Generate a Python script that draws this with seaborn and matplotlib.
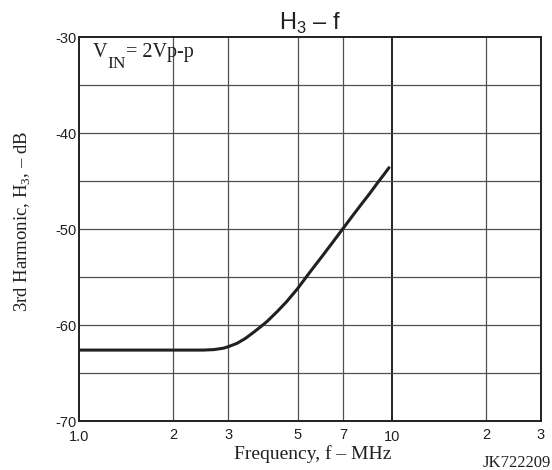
import matplotlib
matplotlib.use("Agg")
import matplotlib.pyplot as plt
import seaborn as sns
import pandas as pd
from matplotlib.ticker import FixedLocator, NullLocator
from matplotlib.transforms import ScaledTranslation

# --- data ---
freq_mhz = [1.0, 2.0, 2.5, 2.7, 2.9, 3.0, 3.2, 3.4, 3.6, 3.8, 4.0, 4.3, 4.6,
            5.0, 5.5, 6.0, 6.5, 7.0, 7.5, 8.0, 8.5, 9.0, 9.5, 9.8]
h3_db = [-62.6, -62.6, -62.6, -62.55, -62.4, -62.25, -61.9, -61.4, -60.8, -60.2, -59.6, -58.6, -57.6,
         -56.2, -54.4, -52.8, -51.3, -49.9, -48.6, -47.4, -46.3, -45.2, -44.2, -43.6]

x_ticks = [1, 2, 3, 5, 7, 10, 20, 30]
x_tick_labels = ["1.0", "2", "3", "5", "7", "10", "2", "3"]
y_ticks = [-70, -60, -50, -40, -30]
y_grid = [-65, -55, -45, -35]

df = pd.DataFrame({"freq": freq_mhz, "h3": h3_db})

sns.set_style("white")
plt.rcParams["mathtext.fontset"] = "custom"
plt.rcParams["mathtext.rm"] = "Liberation Serif"
plt.rcParams["mathtext.sf"] = "Liberation Sans"

ink = "#231f20"
serif = ["Liberation Serif", "DejaVu Serif"]
sans = ["Liberation Sans", "DejaVu Sans"]

fig = plt.figure(figsize=(5.52, 4.70), dpi=100)
ax = fig.add_axes([0.143, 0.104, 0.837, 0.817])

sns.lineplot(data=df, x="freq", y="h3", ax=ax, color=ink, linewidth=2.2)

ax.set_xscale("log")
ax.set_xlim(1, 30)
ax.set_ylim(-70, -30)

ax.xaxis.set_major_locator(FixedLocator(x_ticks))
ax.xaxis.set_minor_locator(NullLocator())
ax.set_xticklabels(x_tick_labels)
ax.set_yticks(y_ticks)
ax.set_yticklabels([str(v) for v in y_ticks])

# grid lines
for xv in x_ticks[1:-1]:
    if xv == 10:
        ax.axvline(xv, color=ink, linewidth=1.4, zorder=1)
    else:
        ax.axvline(xv, color="#505050", linewidth=0.9, zorder=1)
for yv in y_ticks[1:-1] + y_grid:
    ax.axhline(yv, color="#505050", linewidth=0.9, zorder=1)

for s in ax.spines.values():
    s.set_color(ink)
    s.set_linewidth(1.4)

ax.tick_params(axis="both", length=0, labelsize=10.5, colors=ink)
ax.tick_params(axis="x", pad=5)
ax.tick_params(axis="y", pad=2)
for lab in ax.get_xticklabels() + ax.get_yticklabels():
    lab.set_family(sans)
# "1.0" and "10" sit a little lower in the reference
for lab in ax.get_xticklabels():
    if lab.get_text() in ("1.0", "10"):
        lab.set_transform(lab.get_transform() + ScaledTranslation(0, -1.5 / 72, fig.dpi_scale_trans))

ax.set_xlabel("Frequency, f – MHz", fontsize=14, family=serif, color=ink)
ax.xaxis.set_label_coords(0.505, -0.062)
ax.set_ylabel("3rd Harmonic, H$_3$, – dB", fontsize=13.5, family=serif, color=ink)
ax.yaxis.set_label_coords(-0.100, 0.52)
ax.set_title(r"$\mathsf{H}_{\mathsf{3}}$ – f", fontsize=17, family=sans, color=ink, pad=5)

# V_IN = 2Vp-p, with a near full-size lowered subscript
v_txt = ax.text(0.030, 0.948, "V", transform=ax.transAxes, fontsize=14.5,
                family=serif, color=ink, va="baseline", ha="left")
in_txt = ax.annotate("IN", xy=(1, 0), xycoords=v_txt, xytext=(0, -4),
                     textcoords="offset points", fontsize=12.5, family=serif,
                     color=ink, va="baseline", ha="left")
ax.annotate("= 2Vp-p", xy=(1, 0.948), xycoords=(in_txt, "axes fraction"), xytext=(0.5, 0),
            textcoords="offset points", fontsize=14.5, family=serif,
            color=ink, va="baseline", ha="left")

fig.text(0.998, 0.006, "JK722209", fontsize=12, family=serif, color=ink, ha="right")

fig.savefig("out.png", dpi=100)
plt.close(fig)
